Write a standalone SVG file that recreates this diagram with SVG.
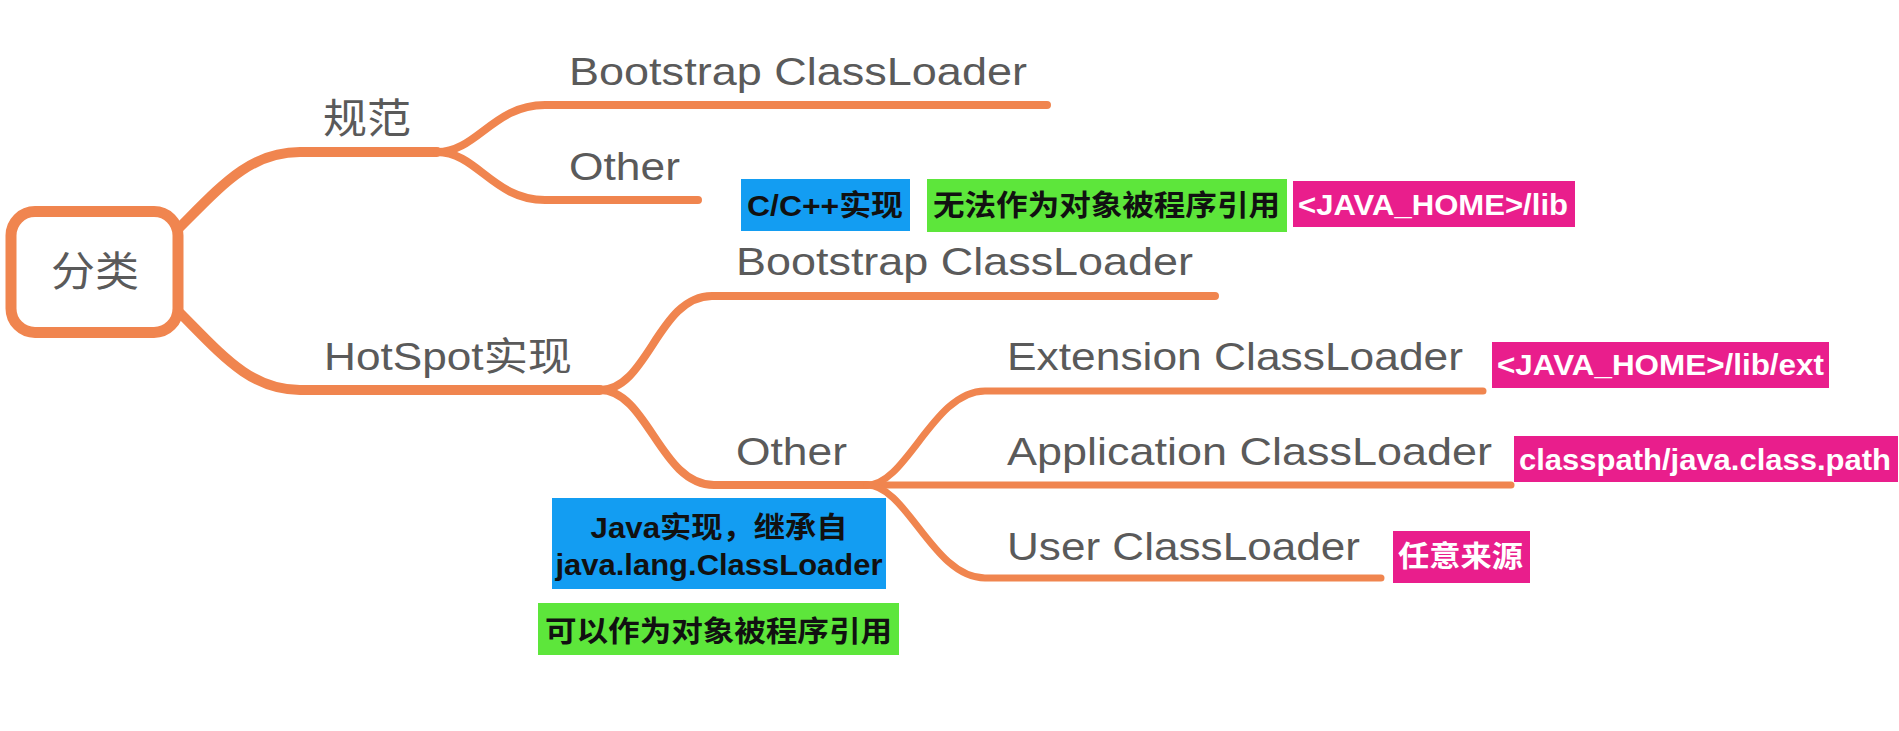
<svg xmlns="http://www.w3.org/2000/svg" width="1899" height="731" viewBox="0 0 1899 731">
<style>
.bg{fill:#ffffff}
.edge{fill:none;stroke:#F0854F;stroke-linecap:round;stroke-linejoin:round}
.e1{stroke-width:10}
.e2{stroke-width:8}
.e3{stroke-width:7}
.node{font-family:"Liberation Sans","Noto Sans CJK SC",sans-serif;font-size:39px;fill:#5a5a5a}
.cjk{font-family:"Noto Sans CJK SC","Liberation Sans",sans-serif;font-size:41px;fill:#5a5a5a}
.lbl{font-family:"Liberation Sans","Noto Sans CJK SC",sans-serif;font-size:29px;font-weight:bold}
.lcjk{font-family:"Noto Sans CJK SC","Liberation Sans",sans-serif;font-size:29px;font-weight:bold}
.dark{fill:#111111}
.light{fill:#ffffff}
.blue{fill:#139DF2}
.green{fill:#5DE63B}
.pink{fill:#E91E8C}
</style>
<rect class="bg" x="0" y="0" width="1899" height="731"/>
<g id="connectors">
  <path class="edge e1" d="M178,229 C222,185 250,152 300,152 L437,152"/>
  <path class="edge e1" d="M178,311 C222,355 250,390 300,390 L600,390"/>
  <path class="edge e2" d="M437,152 C477,152 493,105 545,105 L1047,105"/>
  <path class="edge e2" d="M437,152 C477,152 493,200 545,200 L698,200"/>
  <path class="edge e2" d="M600,390 C648,390 658,296 712,296 L1215,296"/>
  <path class="edge e2" d="M600,390 C648,390 660,485 714,485 L867,485"/>
  <path class="edge e3" d="M867,485 C907,485 933,391 985,391 L1483,391"/>
  <path class="edge e3" d="M867,485 L1511,485"/>
  <path class="edge e3" d="M867,485 C907,485 933,578 985,578 L1381,578"/>
</g>
<g id="root">
  <rect x="11" y="211.5" width="167" height="121" rx="24" fill="#ffffff" stroke="#F0854F" stroke-width="11"/>
  <text class="cjk" x="51" y="286" textLength="88" lengthAdjust="spacingAndGlyphs">分类</text>
</g>
<g id="node-spec">
  <text class="cjk" x="323" y="133" textLength="88" lengthAdjust="spacingAndGlyphs">规范</text>
</g>
<g id="node-spec-bootstrap">
  <text class="node" x="569" y="85" textLength="458" lengthAdjust="spacingAndGlyphs">Bootstrap ClassLoader</text>
</g>
<g id="node-spec-other">
  <text class="node" x="569" y="180" textLength="111" lengthAdjust="spacingAndGlyphs">Other</text>
</g>
<g id="label-cpp">
  <rect class="blue" x="741" y="179" width="169" height="52"/>
  <text class="lbl dark" x="747" y="216" textLength="156" lengthAdjust="spacingAndGlyphs">C/C++实现</text>
</g>
<g id="label-noref">
  <rect class="green" x="927" y="179" width="360" height="53"/>
  <text class="lcjk dark" x="933" y="216" textLength="347" lengthAdjust="spacingAndGlyphs">无法作为对象被程序引用</text>
</g>
<g id="label-lib">
  <rect class="pink" x="1293" y="181" width="282" height="46"/>
  <text class="lbl light" x="1298" y="215" textLength="270" lengthAdjust="spacingAndGlyphs">&lt;JAVA_HOME&gt;/lib</text>
</g>
<g id="node-hotspot">
  <text class="node" x="324" y="370" textLength="248" lengthAdjust="spacingAndGlyphs">HotSpot实现</text>
</g>
<g id="node-hs-bootstrap">
  <text class="node" x="736" y="275" textLength="457" lengthAdjust="spacingAndGlyphs">Bootstrap ClassLoader</text>
</g>
<g id="node-hs-other">
  <text class="node" x="736" y="465" textLength="111" lengthAdjust="spacingAndGlyphs">Other</text>
</g>
<g id="label-java">
  <rect class="blue" x="552" y="498" width="334" height="91"/>
  <text class="lbl dark" x="719" y="538" text-anchor="middle" textLength="257" lengthAdjust="spacingAndGlyphs">Java实现，继承自</text>
  <text class="lbl dark" x="719" y="575" text-anchor="middle" textLength="327" lengthAdjust="spacingAndGlyphs">java.lang.ClassLoader</text>
</g>
<g id="label-canref">
  <rect class="green" x="538" y="603" width="361" height="52"/>
  <text class="lcjk dark" x="545" y="642" textLength="347" lengthAdjust="spacingAndGlyphs">可以作为对象被程序引用</text>
</g>
<g id="node-extension">
  <text class="node" x="1007" y="370" textLength="456" lengthAdjust="spacingAndGlyphs">Extension ClassLoader</text>
</g>
<g id="label-ext">
  <rect class="pink" x="1492" y="342" width="337" height="46"/>
  <text class="lbl light" x="1497" y="375" textLength="327" lengthAdjust="spacingAndGlyphs">&lt;JAVA_HOME&gt;/lib/ext</text>
</g>
<g id="node-application">
  <text class="node" x="1007" y="465" textLength="485" lengthAdjust="spacingAndGlyphs">Application ClassLoader</text>
</g>
<g id="label-classpath">
  <rect class="pink" x="1514" y="436" width="384" height="46"/>
  <text class="lbl light" x="1519" y="470" textLength="372" lengthAdjust="spacingAndGlyphs">classpath/java.class.path</text>
</g>
<g id="node-user">
  <text class="node" x="1007" y="560" textLength="353" lengthAdjust="spacingAndGlyphs">User ClassLoader</text>
</g>
<g id="label-any">
  <rect class="pink" x="1393" y="531" width="137" height="52"/>
  <text class="lcjk light" x="1398" y="567" textLength="125" lengthAdjust="spacingAndGlyphs">任意来源</text>
</g>
</svg>
